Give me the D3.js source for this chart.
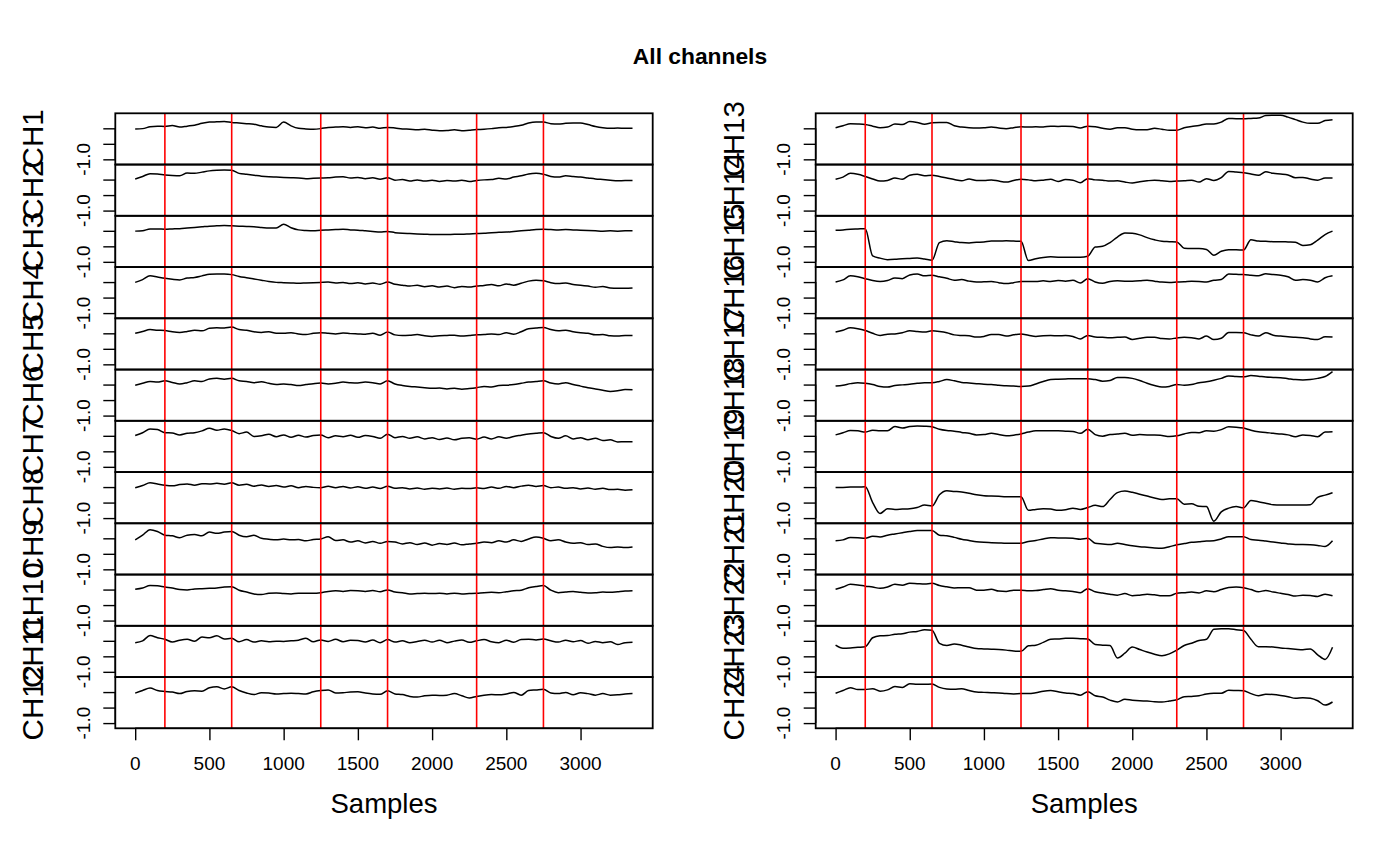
<!DOCTYPE html>
<html><head><meta charset="utf-8">
<script src="https://cdn.jsdelivr.net/npm/d3@7"></script>
<style>
body{margin:0;background:#fff}
svg{display:block}
text{font-family:"Liberation Sans",Arial,Helvetica,sans-serif;fill:#000}
</style>
</head><body>
<svg id="chart" width="1400" height="865"></svg>
<script>
// ---------- data ----------
const title = "All channels";
const xLabel = "Samples";
const samples = d3.range(0, 3351, 50);          // sample index of each stored value
const xTicks = [0, 500, 1000, 1500, 2000, 2500, 3000];
const yTicks = [-1.0, -0.5, 0.0];
const events = [200, 650, 1250, 1700, 2300, 2750];
const xDomain = [-134, 3486];
const yDomain = [-1.168, 0.484];
const leftChannels = ["CH1","CH2","CH3","CH4","CH5","CH6","CH7","CH8","CH9","CH10","CH11","CH12"];
const rightChannels = ["CH13","CH14","CH15","CH16","CH17","CH18","CH19","CH20","CH21","CH22","CH23","CH24"];

const ch1 = [-0.02,-0.01,0.05,0.07,0.06,0.09,0.04,0.07,0.1,0.16,0.2,0.21,0.22,0.19,0.17,0.15,0.13,0.08,0.04,0.03,0.2,0.08,0.0,-0.02,-0.03,-0.01,0.03,0.04,0.05,0.03,0.05,0.02,0.04,0.0,0.03,0.01,-0.02,-0.03,-0.05,-0.03,-0.06,-0.08,-0.07,-0.05,-0.08,-0.06,-0.04,-0.03,-0.01,0.02,0.03,0.06,0.1,0.17,0.2,0.2,0.15,0.14,0.16,0.17,0.17,0.12,0.06,0.02,0.0,0.01,0.0,0.0];
const ch2 = [0.02,0.1,0.19,0.18,0.15,0.13,0.12,0.21,0.2,0.24,0.28,0.3,0.31,0.3,0.2,0.17,0.14,0.11,0.09,0.08,0.07,0.06,0.05,0.03,0.04,0.05,0.06,0.08,0.09,0.05,0.07,0.03,0.06,0.01,0.06,-0.02,0.0,-0.05,-0.01,-0.05,-0.02,-0.06,-0.03,-0.05,-0.02,-0.06,-0.03,-0.01,0.0,0.04,0.02,0.08,0.12,0.18,0.2,0.17,0.1,0.08,0.12,0.1,0.08,0.05,0.02,0.0,-0.02,-0.04,-0.03,-0.03];
const ch3 = [-0.01,0.0,0.06,0.06,0.05,0.06,0.07,0.09,0.11,0.13,0.15,0.16,0.17,0.16,0.15,0.14,0.13,0.11,0.09,0.09,0.21,0.1,0.03,0.01,0.0,0.02,0.03,0.04,0.05,0.03,0.02,0.0,-0.02,-0.04,-0.02,-0.06,-0.08,-0.09,-0.1,-0.11,-0.12,-0.12,-0.12,-0.11,-0.11,-0.1,-0.09,-0.08,-0.06,-0.05,-0.04,-0.02,0.0,0.02,0.04,0.05,0.04,0.03,0.04,0.03,0.02,0.01,0.0,-0.01,0.0,-0.01,0.0,0.0];
const ch4 = [-0.01,0.08,0.2,0.16,0.12,0.09,0.07,0.13,0.15,0.2,0.25,0.26,0.26,0.24,0.18,0.14,0.1,0.06,0.02,-0.01,-0.02,-0.03,-0.04,-0.03,-0.02,-0.01,0.0,-0.03,-0.01,-0.05,-0.02,-0.06,-0.03,-0.07,0.0,-0.07,-0.1,-0.13,-0.1,-0.15,-0.12,-0.16,-0.13,-0.18,-0.14,-0.16,-0.13,-0.11,-0.08,-0.12,-0.06,-0.1,-0.04,0.03,0.06,0.04,-0.02,-0.05,-0.03,-0.08,-0.1,-0.13,-0.17,-0.14,-0.19,-0.2,-0.2,-0.19];
const ch5 = [0.0,0.06,0.12,0.1,0.09,0.05,0.03,0.06,0.1,0.08,0.16,0.18,0.17,0.2,0.12,0.1,0.05,0.03,0.05,0.0,0.0,0.02,-0.02,-0.04,0.0,0.02,0.0,-0.02,0.01,-0.01,-0.02,-0.03,0.0,-0.06,0.04,-0.05,-0.07,-0.06,-0.04,-0.08,-0.1,-0.08,-0.07,-0.06,-0.09,-0.07,-0.05,-0.04,-0.02,-0.04,0.02,-0.03,0.05,0.15,0.17,0.19,0.12,0.08,0.1,0.05,0.02,0.0,-0.05,-0.04,-0.08,-0.09,-0.07,-0.07];
const ch6 = [-0.02,0.04,0.1,0.08,0.12,0.07,0.02,0.06,0.12,0.1,0.18,0.2,0.17,0.2,0.12,0.1,0.06,0.09,0.04,0.0,0.02,0.0,-0.03,0.0,0.03,0.05,0.02,0.04,0.08,0.06,0.05,0.08,0.06,0.02,0.12,0.02,-0.03,-0.06,-0.08,-0.1,-0.12,-0.11,-0.14,-0.12,-0.15,-0.13,-0.1,-0.06,-0.08,-0.03,-0.02,0.0,0.04,0.08,0.1,0.12,0.05,0.02,0.06,0.0,-0.05,-0.1,-0.14,-0.18,-0.22,-0.2,-0.16,-0.17];
const ch7 = [0.01,0.1,0.22,0.2,0.1,0.09,0.03,0.08,0.1,0.16,0.24,0.18,0.22,0.17,0.07,0.12,-0.02,0.0,0.05,-0.03,0.03,-0.05,0.02,-0.04,0.01,0.03,-0.06,0.0,-0.03,0.02,-0.05,0.01,-0.02,-0.08,0.05,-0.06,-0.02,-0.08,-0.03,-0.1,-0.06,-0.12,-0.07,-0.13,-0.08,-0.06,-0.11,-0.04,-0.1,-0.03,-0.08,-0.02,0.02,0.06,0.08,0.1,-0.02,-0.08,0.0,-0.1,-0.06,-0.13,-0.08,-0.15,-0.13,-0.2,-0.19,-0.19];
const ch8 = [-0.02,0.05,0.14,0.1,0.06,0.04,0.08,0.1,0.06,0.11,0.1,0.12,0.09,0.14,0.06,0.09,0.03,0.07,0.02,0.05,0.0,0.04,-0.02,0.02,-0.01,-0.02,0.03,-0.02,0.02,-0.03,0.01,-0.04,0.0,-0.05,0.03,-0.04,-0.02,-0.06,-0.03,-0.07,-0.04,-0.06,-0.03,-0.07,-0.04,-0.05,-0.02,-0.05,0.0,-0.04,0.02,-0.02,0.03,0.06,0.02,0.05,-0.02,0.0,-0.04,-0.02,-0.06,-0.03,-0.07,-0.04,-0.08,-0.07,-0.1,-0.09];
const ch9 = [-0.05,0.1,0.28,0.22,0.1,0.08,0.02,0.1,0.12,0.08,0.2,0.16,0.2,0.22,0.1,0.05,0.1,0.0,-0.03,-0.05,-0.02,-0.05,-0.04,-0.08,-0.04,-0.02,0.05,-0.07,-0.05,-0.12,-0.08,-0.15,-0.1,-0.16,-0.1,-0.12,-0.18,-0.14,-0.2,-0.15,-0.22,-0.17,-0.2,-0.15,-0.21,-0.18,-0.16,-0.12,-0.14,-0.08,-0.12,-0.05,-0.1,-0.02,0.04,0.0,-0.08,-0.05,-0.12,-0.16,-0.14,-0.2,-0.18,-0.26,-0.3,-0.28,-0.3,-0.28];
const ch10 = [0.01,0.05,0.13,0.12,0.08,0.05,0.0,-0.01,0.02,0.03,0.04,0.05,0.08,0.09,-0.02,-0.08,-0.14,-0.16,-0.12,-0.11,-0.13,-0.14,-0.12,-0.12,-0.12,-0.1,-0.06,-0.04,-0.06,-0.03,-0.04,-0.06,-0.03,-0.07,-0.01,-0.08,-0.1,-0.14,-0.13,-0.12,-0.13,-0.12,-0.14,-0.12,-0.14,-0.13,-0.12,-0.1,-0.09,-0.1,-0.07,-0.04,-0.02,0.06,0.1,0.13,-0.02,-0.1,-0.08,-0.06,-0.09,-0.11,-0.1,-0.08,-0.09,-0.07,-0.05,-0.04];
const ch11 = [-0.06,0.0,0.17,0.1,0.05,-0.04,0.02,0.05,-0.01,0.12,0.1,0.16,0.06,0.08,-0.03,0.04,-0.04,0.0,-0.03,-0.01,-0.02,0.0,0.02,0.08,-0.03,0.03,-0.02,0.05,-0.03,0.02,0.01,-0.04,0.03,-0.06,0.04,-0.04,0.0,-0.06,-0.02,0.02,-0.04,0.02,-0.06,-0.01,0.03,-0.05,0.0,0.04,-0.03,-0.06,0.02,-0.05,0.04,0.05,0.03,0.06,0.0,-0.04,0.02,-0.03,0.01,-0.08,-0.02,-0.06,-0.03,-0.12,-0.06,-0.05];
const ch12 = [-0.035,0.05,0.13,0.05,0.02,0.0,-0.05,0.02,0.04,0.03,0.14,0.17,0.1,0.17,0.05,-0.03,-0.08,-0.02,-0.03,-0.06,-0.05,-0.04,-0.05,-0.06,0.01,0.05,0.07,-0.03,-0.02,0.0,0.01,-0.03,-0.06,-0.07,0.04,-0.06,-0.08,-0.14,-0.16,-0.12,-0.1,-0.11,-0.1,-0.05,-0.12,-0.19,-0.14,-0.1,-0.08,-0.09,-0.06,-0.01,-0.1,0.05,0.07,0.09,-0.03,-0.05,-0.01,-0.09,-0.02,-0.05,-0.1,-0.05,-0.1,-0.09,-0.06,-0.05];
const ch13 = [0.02,0.08,0.15,0.14,0.12,0.07,0.02,0.04,0.14,0.12,0.22,0.19,0.13,0.18,0.19,0.19,0.08,0.04,0.02,0.01,0.02,0.04,0.01,-0.01,0.02,0.05,0.04,0.05,0.04,0.07,0.06,0.07,0.06,0.01,0.07,0.05,0.0,-0.03,0.02,0.02,-0.03,-0.05,-0.05,0.0,-0.03,-0.06,-0.06,0.02,0.06,0.09,0.14,0.14,0.2,0.32,0.31,0.31,0.32,0.33,0.41,0.42,0.42,0.36,0.28,0.2,0.16,0.16,0.25,0.28];
const ch14 = [0.01,0.08,0.2,0.17,0.1,0.02,-0.05,-0.03,0.05,0.01,0.14,0.17,0.12,0.14,0.1,0.05,0.0,-0.04,0.02,-0.03,-0.03,-0.01,-0.05,-0.08,-0.03,0.01,-0.01,-0.04,-0.02,0.01,-0.06,0.0,-0.02,-0.1,0.03,-0.01,-0.02,-0.05,-0.04,-0.08,-0.11,-0.07,-0.04,-0.02,-0.04,-0.06,-0.05,-0.04,-0.02,-0.08,0.03,-0.03,0.06,0.26,0.24,0.22,0.18,0.14,0.25,0.2,0.18,0.15,0.06,0.07,0.02,-0.02,0.05,0.05];
const ch15 = [0.02,0.03,0.05,0.06,0.07,-0.81,-0.88,-0.93,-0.92,-0.9,-0.89,-0.88,-0.91,-0.95,-0.38,-0.32,-0.35,-0.38,-0.39,-0.37,-0.36,-0.33,-0.33,-0.32,-0.33,-0.34,-0.96,-0.9,-0.86,-0.84,-0.85,-0.85,-0.85,-0.85,-0.82,-0.52,-0.5,-0.38,-0.2,-0.07,-0.08,-0.13,-0.22,-0.29,-0.34,-0.35,-0.36,-0.56,-0.57,-0.57,-0.6,-0.79,-0.66,-0.61,-0.61,-0.62,-0.29,-0.33,-0.34,-0.35,-0.35,-0.36,-0.37,-0.47,-0.45,-0.3,-0.12,-0.01];
const ch16 = [0.0,0.07,0.2,0.17,0.11,0.05,0.02,0.05,0.13,0.11,0.23,0.26,0.2,0.22,0.17,0.12,0.06,0.08,0.03,0.0,0.01,0.02,-0.02,-0.05,-0.02,0.02,0.02,0.02,0.04,0.02,0.05,0.03,0.06,-0.03,0.11,0.0,-0.04,0.02,0.04,0.03,0.03,0.04,0.06,0.03,0.0,-0.01,0.0,0.01,0.03,0.02,0.0,0.06,0.08,0.26,0.25,0.24,0.22,0.2,0.27,0.24,0.22,0.17,0.06,0.08,0.06,0.0,0.14,0.2];
const ch17 = [0.04,0.1,0.18,0.15,0.09,0.0,-0.07,-0.03,-0.02,0.02,0.08,0.06,0.04,0.08,0.06,0.02,-0.05,-0.07,-0.08,-0.12,-0.1,-0.04,-0.04,-0.09,-0.05,-0.02,-0.06,-0.1,-0.08,-0.07,-0.08,-0.07,-0.1,-0.18,-0.07,-0.12,-0.13,-0.14,-0.13,-0.12,-0.2,-0.16,-0.13,-0.13,-0.17,-0.18,-0.15,-0.13,-0.14,-0.18,-0.09,-0.2,-0.16,0.03,0.03,0.02,-0.05,-0.09,0.02,-0.06,-0.09,-0.11,-0.13,-0.14,-0.18,-0.2,-0.11,-0.12];
const ch18 = [-0.05,-0.02,0.03,0.06,0.04,0.0,-0.06,-0.08,-0.03,-0.01,0.01,0.04,0.06,0.06,0.1,0.16,0.12,0.07,0.05,0.03,0.01,0.0,-0.02,-0.04,-0.05,-0.06,-0.05,0.02,0.1,0.16,0.17,0.18,0.19,0.19,0.19,0.16,0.11,0.13,0.23,0.23,0.2,0.13,0.04,-0.03,-0.08,-0.06,0.0,-0.02,0.0,0.06,0.09,0.14,0.2,0.28,0.26,0.25,0.29,0.27,0.24,0.23,0.22,0.19,0.16,0.15,0.16,0.2,0.26,0.42];
const ch19 = [0.03,0.1,0.17,0.16,0.12,0.18,0.16,0.16,0.3,0.25,0.3,0.32,0.31,0.29,0.21,0.17,0.15,0.11,0.08,0.03,0.04,0.08,0.04,0.0,0.02,0.06,0.12,0.16,0.16,0.16,0.16,0.15,0.14,0.08,0.21,0.04,-0.01,0.04,0.06,0.08,0.02,0.04,0.03,0.03,0.01,-0.02,0.0,0.06,0.11,0.1,0.16,0.15,0.2,0.29,0.28,0.25,0.18,0.13,0.11,0.08,0.06,0.03,-0.03,0.03,0.01,-0.03,0.12,0.13];
const ch20 = [-0.01,-0.01,0.0,0.0,0.01,-0.5,-0.85,-0.7,-0.72,-0.71,-0.7,-0.66,-0.58,-0.61,-0.25,-0.12,-0.14,-0.16,-0.2,-0.25,-0.28,-0.29,-0.3,-0.31,-0.31,-0.31,-0.75,-0.72,-0.7,-0.71,-0.75,-0.73,-0.68,-0.72,-0.66,-0.59,-0.63,-0.4,-0.18,-0.13,-0.17,-0.23,-0.29,-0.35,-0.4,-0.38,-0.38,-0.55,-0.54,-0.62,-0.63,-1.1,-0.8,-0.68,-0.63,-0.67,-0.43,-0.47,-0.52,-0.57,-0.58,-0.58,-0.58,-0.58,-0.57,-0.33,-0.26,-0.18];
const ch21 = [-0.08,-0.05,0.03,0.02,0.0,0.07,0.04,0.1,0.14,0.18,0.22,0.25,0.25,0.25,0.1,0.08,0.03,-0.03,-0.07,-0.11,-0.13,-0.14,-0.15,-0.16,-0.16,-0.16,-0.1,-0.07,-0.02,0.02,0.01,0.01,0.0,-0.03,0.0,-0.16,-0.18,-0.2,-0.16,-0.2,-0.24,-0.27,-0.29,-0.31,-0.32,-0.27,-0.21,-0.17,-0.13,-0.11,-0.09,-0.08,-0.02,0.05,0.05,0.05,-0.04,-0.06,-0.09,-0.12,-0.15,-0.18,-0.2,-0.2,-0.21,-0.23,-0.26,-0.08];
const ch22 = [0.01,0.08,0.17,0.15,0.11,0.08,0.04,0.08,0.17,0.14,0.2,0.19,0.18,0.2,0.13,0.09,0.05,0.06,0.06,-0.02,-0.02,0.01,-0.05,-0.06,-0.02,-0.02,-0.04,-0.03,0.0,0.03,-0.02,-0.04,-0.06,-0.1,0.03,-0.07,-0.11,-0.15,-0.18,-0.13,-0.2,-0.18,-0.15,-0.17,-0.2,-0.2,-0.12,-0.1,-0.08,-0.11,-0.04,-0.07,0.0,0.07,0.08,0.06,0.0,-0.07,-0.03,-0.08,-0.12,-0.16,-0.21,-0.18,-0.19,-0.22,-0.15,-0.2];
const ch23 = [-0.14,-0.24,-0.23,-0.21,-0.19,0.1,0.16,0.17,0.21,0.23,0.28,0.3,0.36,0.34,-0.08,-0.15,-0.1,-0.14,-0.2,-0.25,-0.26,-0.27,-0.28,-0.3,-0.33,-0.34,-0.16,-0.14,-0.05,0.05,0.06,0.08,0.08,0.07,0.06,-0.12,-0.14,-0.15,-0.55,-0.4,-0.2,-0.28,-0.36,-0.43,-0.48,-0.42,-0.3,-0.15,-0.08,0.01,0.05,0.37,0.39,0.39,0.36,0.33,0.05,-0.19,-0.19,-0.2,-0.23,-0.25,-0.27,-0.29,-0.26,-0.45,-0.6,-0.21];
const ch24 = [-0.04,0.05,0.14,0.08,0.08,0.11,0.03,0.07,0.18,0.15,0.27,0.25,0.25,0.26,0.15,0.1,0.09,0.11,0.05,0.0,-0.01,-0.02,-0.03,-0.05,-0.06,-0.05,-0.05,-0.02,0.03,0.05,0.01,-0.03,-0.05,-0.1,0.01,-0.12,-0.16,-0.26,-0.32,-0.23,-0.26,-0.28,-0.29,-0.31,-0.32,-0.29,-0.25,-0.15,-0.14,-0.12,-0.06,-0.04,-0.04,0.06,0.05,0.04,-0.05,-0.12,-0.07,-0.08,-0.11,-0.15,-0.2,-0.18,-0.2,-0.28,-0.42,-0.32];

const seriesByName = {CH1:ch1,CH2:ch2,CH3:ch3,CH4:ch4,CH5:ch5,CH6:ch6,CH7:ch7,CH8:ch8,CH9:ch9,CH10:ch10,CH11:ch11,CH12:ch12,
  CH13:ch13,CH14:ch14,CH15:ch15,CH16:ch16,CH17:ch17,CH18:ch18,CH19:ch19,CH20:ch20,CH21:ch21,CH22:ch22,CH23:ch23,CH24:ch24};

// ---------- layout ----------
const svg = d3.select("#chart");
const plotTop = 113.3, plotBottom = 728.3;
const columns = [
  {x0: 115.3, x1: 652.7, names: leftChannels},
  {x0: 815.7, x1: 1352.7, names: rightChannels}
];
const fmt = d => d.toFixed(1);

svg.append("text")
  .attr("x", 700).attr("y", 64.3)
  .attr("text-anchor", "middle")
  .attr("font-size", 22.8).attr("font-weight", "bold")
  .text(title);

columns.forEach(col => {
  const g = svg.append("g");
  const x = d3.scaleLinear().domain(xDomain).range([col.x0, col.x1]);
  const n = col.names.length;
  const ph = (plotBottom - plotTop) / n;

  col.names.forEach((name, k) => {
    const pTop = plotTop + k * ph, pBot = pTop + ph;
    const y = d3.scaleLinear().domain(yDomain).range([pBot, pTop]);
    const vals = seriesByName[name];
    const line = d3.line().curve(d3.curveMonotoneX)
      .x((d, i) => x(samples[i])).y(d => y(d));

    g.append("path").datum(vals)
      .attr("d", line)
      .attr("fill", "none").attr("stroke", "#000")
      .attr("stroke-width", 1.5).attr("stroke-linejoin", "round");

    g.selectAll(null).data(events).enter().append("line")
      .attr("x1", d => x(d)).attr("x2", d => x(d))
      .attr("y1", pTop).attr("y2", pBot)
      .attr("stroke", "#ff0000").attr("stroke-width", 1.6);

    g.append("rect")
      .attr("x", col.x0).attr("y", pTop)
      .attr("width", col.x1 - col.x0).attr("height", ph)
      .attr("fill", "none").attr("stroke", "#000").attr("stroke-width", 1.8);

    // y axis (R style)
    const ya = g.append("g").attr("transform", `translate(${col.x0},0)`);
    ya.call(d3.axisLeft(y).tickValues(yTicks).tickSize(12).tickFormat(""))
      .call(s => s.select(".domain").remove());
    ya.selectAll(".tick line").attr("stroke", "#000").attr("stroke-width", 1.4);
    ya.append("line")
      .attr("x1", 0).attr("x2", 0)
      .attr("y1", y(yTicks[0])).attr("y2", y(yTicks[yTicks.length - 1]))
      .attr("stroke", "#000").attr("stroke-width", 1.4);
    // labels, skipping ones that would overlap the previous drawn label
    let lastEdge = Infinity;
    yTicks.forEach(t => {
      const ty = y(t);
      const lab = g.append("text")
        .attr("transform", `translate(${col.x0 - 25.8},${ty}) rotate(-90)`)
        .attr("text-anchor", "middle")
        .attr("font-size", 19)
        .text(fmt(t));
      const len = lab.node().getComputedTextLength();
      if (ty + len / 2 + 19 * 0.5 > lastEdge) { lab.remove(); }
      else { lastEdge = ty - len / 2; }
    });

    g.append("text")
      .attr("transform", `translate(${col.x0 - 72},${(pTop + pBot) / 2}) rotate(-90)`)
      .attr("text-anchor", "middle")
      .attr("font-size", 29.5)
      .text(name);
  });

  // x axis
  const xa = g.append("g").attr("transform", `translate(0,${plotBottom})`);
  xa.call(d3.axisBottom(x).tickValues(xTicks).tickSize(12).tickFormat(""))
    .call(s => s.select(".domain").remove());
  xa.selectAll(".tick line").attr("stroke", "#000").attr("stroke-width", 1.4);
  xa.append("line")
    .attr("x1", x(xTicks[0])).attr("x2", x(xTicks[xTicks.length - 1]))
    .attr("stroke", "#000").attr("stroke-width", 1.4);
  g.selectAll(null).data(xTicks).enter().append("text")
    .attr("x", d => x(d)).attr("y", 770)
    .attr("text-anchor", "middle").attr("font-size", 19)
    .text(d => d);

  g.append("text")
    .attr("x", (col.x0 + col.x1) / 2).attr("y", 812.7)
    .attr("text-anchor", "middle").attr("font-size", 27.5)
    .text(xLabel);
});
</script>
</body></html>
